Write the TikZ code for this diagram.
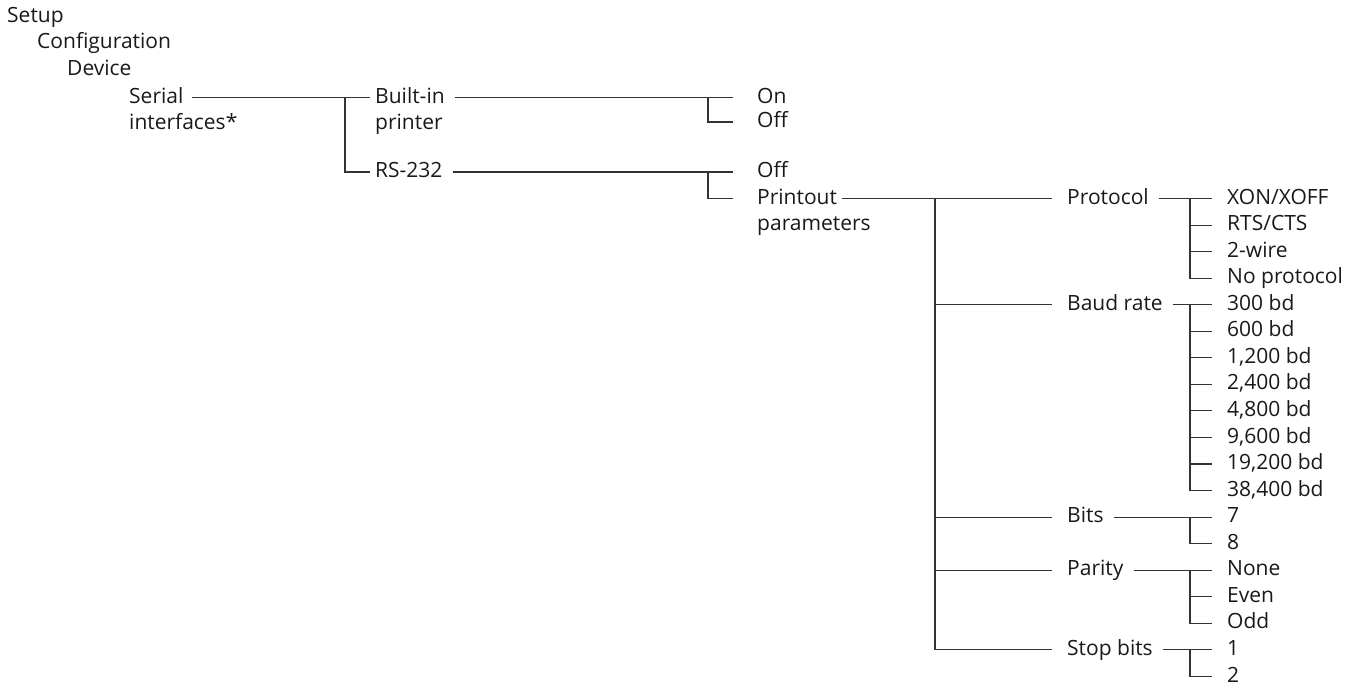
\documentclass[tikz,border=0pt]{standalone}
\usepackage{fontspec}
\setmainfont{Open Sans}
\usetikzlibrary{positioning, calc}

\begin{document}
\fontsize{21}{25}\selectfont
\begin{tikzpicture}[x=1pt, y=-1pt,
    lbl/.style={anchor=mid west, inner sep=0pt, text=black!90, font=\fontsize{21}{25}\selectfont},
    ln/.style={line width=1.1pt, draw=black!80}
]
\useasboundingbox (0,0) rectangle (1355,693);

% menu path
\node[lbl] (setup) at (7,16.5) {Setup};
\node[lbl] (config) at (37,43) {Configuration};
\node[lbl] (device) at (67,70) {Device};

% branch columns
\coordinate (b1) at (345,0);
\coordinate (b2) at (708,0);
\coordinate (b3) at (935,0);
\coordinate (b4) at (1190,0);

% level 1
\node[lbl] (serial) at (129,97.5) {Serial};
\node[lbl] (serial2) at (129,123.5) {interfaces*};
\node[lbl] (builtin) at (375,97.5) {Built-in};
\node[lbl] (builtin2) at (375,123.5) {printer};
\node[lbl] (rs) at (375,172) {RS-232};

\draw[ln] ([xshift=8pt]serial.mid east) -- ([xshift=-5pt]builtin.mid west);
\draw[ln] (builtin.mid west -| b1) |- ([xshift=-5pt]rs.mid west);

% level 2
\node[lbl] (on) at (757,97.5) {On};
\node[lbl] (offa) at (757,122) {Off};
\node[lbl] (offb) at (757,172) {Off};
\node[lbl] (print) at (757,198.5) {Printout};
\node[lbl] (print2) at (757,224.5) {parameters};

\draw[ln] ([xshift=10pt]builtin.mid east) -- ([xshift=-24pt]on.mid west);
\draw[ln] (on.mid west -| b2) |- ([xshift=-24pt]offa.mid west);
\draw[ln] ([xshift=10pt]rs.mid east) -- ([xshift=-24pt]offb.mid west);
\draw[ln] (offb.mid west -| b2) |- ([xshift=-24pt]print.mid west);

% level 3
\node[lbl] (proto) at (1067,198.5) {Protocol};
\node[lbl] (baud) at (1067,{198.5+4*26.55}) {Baud rate};
\node[lbl] (bits) at (1067,{198.5+12*26.55}) {Bits};
\node[lbl] (parity) at (1067,{198.5+14*26.55}) {Parity};
\node[lbl] (stop) at (1067,{198.5+17*26.55}) {Stop bits};

\draw[ln] ([xshift=5pt]print.mid east) -- ([xshift=-15pt]proto.mid west);
\draw[ln] (proto.mid west -| b3) |- ([xshift=-15pt]stop.mid west);
\foreach \n in {baud,bits,parity}
    \draw[ln] (\n.mid west -| b3) -- ([xshift=-15pt]\n.mid west);

% level 4 values
\foreach \t [count=\k from 0] in {XON/XOFF, RTS/CTS, 2-wire, No protocol,
    300 bd, 600 bd, {1,200 bd}, {2,400 bd}, {4,800 bd}, {9,600 bd}, {19,200 bd}, {38,400 bd},
    7, 8, None, Even, Odd, 1, 2} {
    \node[lbl] (v\k) at (1227,{198.5+\k*26.55}) {\t};
}

\foreach \p/\first/\last in {proto/0/3, baud/4/11, bits/12/13, parity/14/16, stop/17/18} {
    \draw[ln] ([xshift=10pt]\p.mid east) -- ([xshift=-15pt]v\first.mid west);
    \draw[ln] (v\first.mid west -| b4) |- ([xshift=-15pt]v\last.mid west);
}
\foreach \k in {1,2,5,6,7,8,9,10,15}
    \draw[ln] (v\k.mid west -| b4) -- ([xshift=-15pt]v\k.mid west);

\end{tikzpicture}
\end{document}
